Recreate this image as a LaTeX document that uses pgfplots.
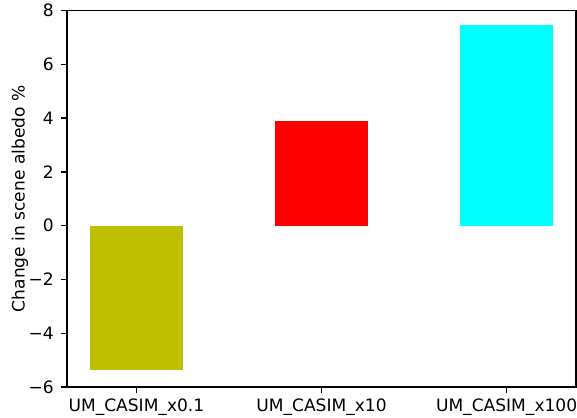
\documentclass[border=0pt]{standalone}
\usepackage{pgfplots}
\pgfplotsset{compat=1.18}
\usepackage{fontspec}
\setmainfont{DejaVu Sans}
\definecolor{oliveY}{rgb}{0.75,0.75,0}
\definecolor{cyanC}{rgb}{0,1,1}
\begin{document}
\fontsize{12.8pt}{15pt}\selectfont
\begin{tikzpicture}
\useasboundingbox (-50.25pt,-22.5pt) rectangle (382.5pt,290.3pt);
\begin{axis}[
  at={(0,0)}, anchor=south west,
  scale only axis,
  width=381.75pt, height=282.4pt,
  xmin=-0.375, xmax=2.375,
  ymin=-6, ymax=8,
  xtick={0,1,2},
  xticklabels={UM\_CASIM\_x0.1,UM\_CASIM\_x10,UM\_CASIM\_x100},
  ytick={-6,-4,-2,0,2,4,6,8},
  yticklabels={−6,−4,−2,0,2,4,6,8},
  tick align=outside,
  major tick length=4.5pt,
  tick style={black, line width=1.0pt},
  axis line style={line width=1.0pt},
  xtick pos=bottom, ytick pos=left,
  tick label style={font=\fontsize{12.8pt}{15pt}\selectfont},
  label style={font=\fontsize{12.8pt}{15pt}\selectfont},
  xticklabel style={yshift=0pt},
  yticklabel style={xshift=-1pt},
  ylabel={Change in scene albedo \%},
  ylabel style={at={(axis description cs:-0.0923,0.5)}, anchor=center},
  ybar, bar width=0.5, bar shift=0pt,
]
\addplot[fill=oliveY, draw=none] coordinates {(0,-5.38)};
\addplot[fill=red, draw=none] coordinates {(1,3.90)};
\addplot[fill=cyanC, draw=none] coordinates {(2,7.45)};
\end{axis}
\end{tikzpicture}
\end{document}
